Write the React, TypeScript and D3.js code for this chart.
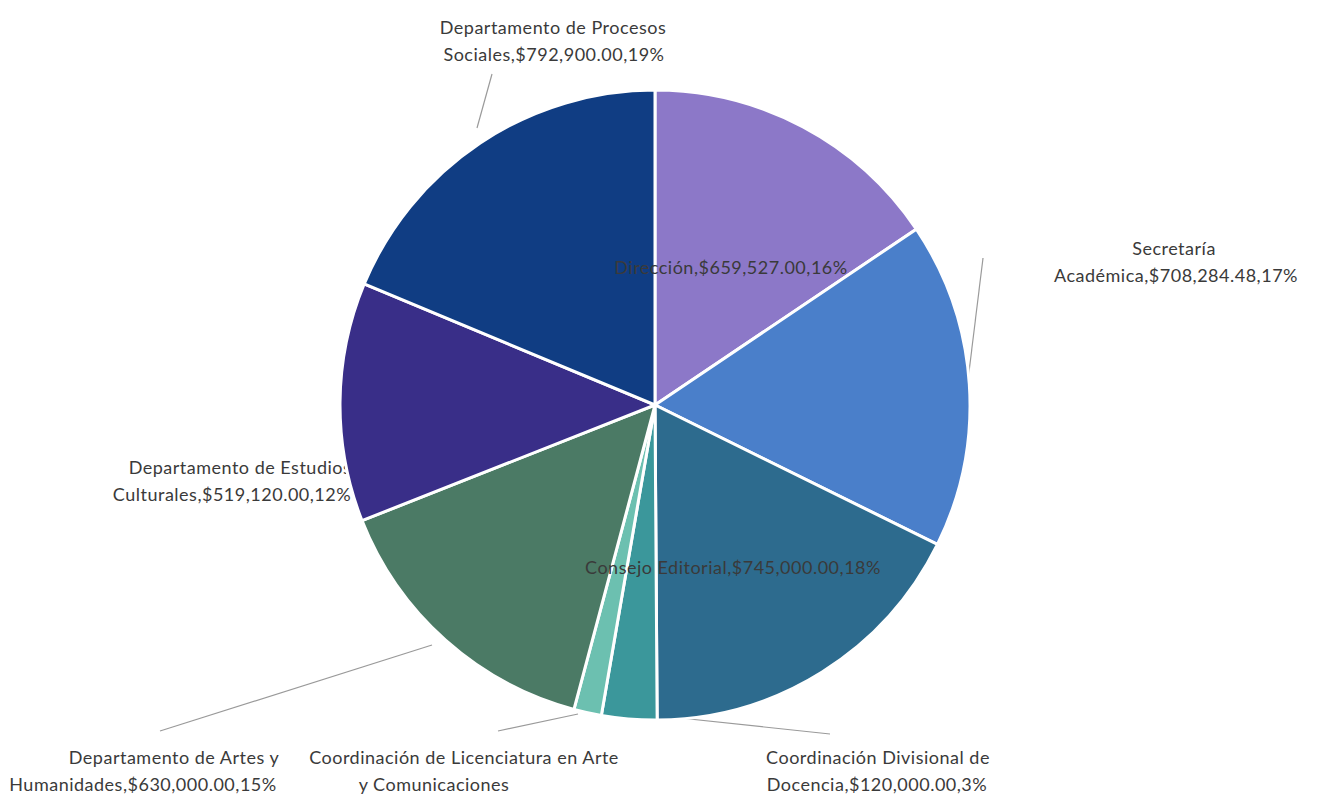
import React from "react";
import * as d3 from "d3";

const categories = [
  "Dirección",
  "Secretaría Académica",
  "Consejo Editorial",
  "Coordinación Divisional de Docencia",
  "Coordinación de Licenciatura en Arte y Comunicaciones",
  "Departamento de Artes y Humanidades",
  "Departamento de Estudios Culturales",
  "Departamento de Procesos Sociales",
];
const values = [659527, 708284.48, 745000, 120000, 60000, 630000, 519120, 792900];
const colors = ["#8c78c8", "#4a7fca", "#2d6b8e", "#3b979b", "#6cc0b0", "#4b7a65", "#392e88", "#103d83"];

// label text lines per slice
const labelLines: string[][] = [
  ["Dirección,$659,527.00,16%"],
  ["Secretaría", "Académica,$708,284.48,17%"],
  ["Consejo Editorial,$745,000.00,18%"],
  ["Coordinación Divisional de", "Docencia,$120,000.00,3%"],
  ["Coordinación de Licenciatura en Arte", "y Comunicaciones"],
  ["Departamento de Artes y", "Humanidades,$630,000.00,15%"],
  ["Departamento de Estudios", "Culturales,$519,120.00,12%"],
  ["Departamento de Procesos", "Sociales,$792,900.00,19%"],
];
const inside = [true, false, true, false, false, false, false, false];
// per-line center x, and first-line baseline y
const labelX: number[][] = [
  [731],
  [1174, 1176],
  [733],
  [878, 877],
  [464, 434],
  [174, 143],
  [240, 232],
  [553, 554],
];
const labelY = [274, 255, 574, 764, 764, 764, 474, 34];
// leader lines: [labelEnd, sliceEnd]
const leaders: [number, number, number, number][] = [
  [0, 0, 0, 0],
  [983, 258, 968, 380],
  [0, 0, 0, 0],
  [830, 734, 680, 718],
  [498, 731, 578, 714],
  [160, 731, 432, 645],
  [0, 0, 0, 0],
  [492, 74, 477, 128],
];

export default function App() {
  const W = 1326, H = 804;
  const cx = 655, cy = 405, r = 315;
  const pie = d3.pie<number>().sort(null).value((d) => d).startAngle(0).endAngle(2 * Math.PI);
  const arcs = pie(values);
  const arc = d3.arc<d3.PieArcDatum<number>>().innerRadius(0).outerRadius(r);
  const font = "Lato, 'Open Sans', sans-serif";
  const renderLabel = (i: number) => (
    <text
      key={"l" + i}
      y={labelY[i]}
      textAnchor="middle"
      fontFamily={font}
      fontSize={18}
      letterSpacing={0.5}
      fill="#3a3a3a"
    >
      {labelLines[i].map((t, j) => (
        <tspan key={j} x={labelX[i][j]} y={labelY[i] + j * 27}>
          {t}
        </tspan>
      ))}
    </text>
  );
  return (
    <svg width={W} height={H} style={{ position: "absolute", left: 0, top: 0, background: "#fff" }}>
      <rect width={W} height={H} fill="#fff" />
      {categories.map((c, i) => (inside[i] ? null : renderLabel(i)))}
      {leaders.map((l, i) =>
        inside[i] ? null : (
          <line key={"ld" + i} x1={l[0]} y1={l[1]} x2={l[2]} y2={l[3]} stroke="#9a9a9a" strokeWidth={1.2} />
        )
      )}
      <g transform={`translate(${cx},${cy})`}>
        {arcs.map((a, i) => (
          <path key={categories[i]} d={arc(a) || ""} fill={colors[i]} stroke="#fff" strokeWidth={3} />
        ))}
      </g>
      {categories.map((c, i) => (inside[i] ? renderLabel(i) : null))}
    </svg>
  );
}
